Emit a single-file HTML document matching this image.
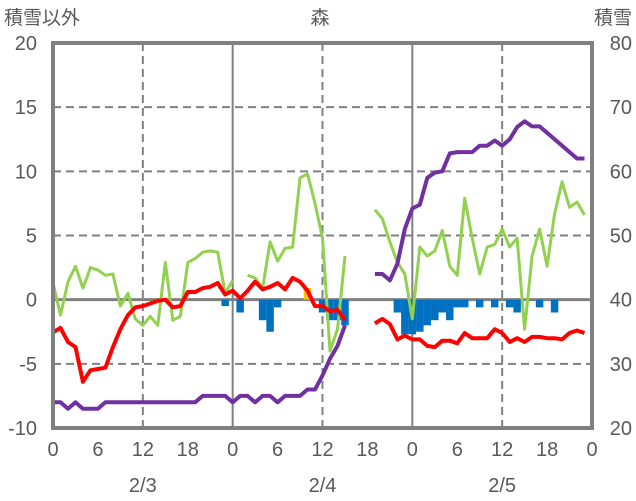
<!DOCTYPE html>
<html><head><meta charset="utf-8"><style>
body{margin:0;background:#fff}
svg{display:block;font-family:"Liberation Sans","Noto Sans CJK JP",sans-serif}
</style></head><body>
<svg id="c" width="636" height="501"></svg>
<script>
const hours=[0,6,12,18,0,6,12,18,0,6,12,18,0];
const dates=["2/3","2/4","2/5"];
const leftTicks=[20,15,10,5,0,-5,-10];
const rightTicks=[80,70,60,50,40,30,20];
const N=null;
const green=[1.3,-1.2,1.4,2.6,0.9,2.5,2.3,1.9,2.0,-0.5,0.5,-1.5,-2.0,-1.3,-2.0,2.9,-1.6,-1.3,2.9,3.2,3.7,3.8,3.7,0.5,1.5,N,1.9,1.7,0.9,4.5,3.0,4.0,4.1,9.5,9.8,7.5,4.8,-4.0,-2.3,3.4,N,N,N,7.0,6.3,4.5,2.9,2.0,-1.5,4.1,3.4,3.8,5.4,2.6,1.9,7.9,4.8,2.0,4.1,4.3,5.5,4.1,4.8,-2.3,3.4,5.5,2.6,6.7,9.2,7.2,7.6,6.6];
const red=[-2.55,-2.2,-3.3,-3.7,-6.4,-5.5,-5.4,-5.3,-3.7,-2.3,-1.2,-0.6,-0.5,-0.3,-0.1,0,-0.6,-0.5,0.6,0.6,0.9,1.0,1.3,0.4,0.7,0.1,0.7,1.4,0.8,1.0,1.3,0.8,1.7,1.4,0.7,-0.5,-0.5,-0.9,-0.8,-1.6,N,N,N,-1.85,-1.5,-1.9,-3.1,-2.8,-3.1,-3.1,-3.6,-3.7,-3.2,-3.2,-3.4,-2.6,-3.0,-3.0,-3.0,-2.3,-2.6,-3.3,-3.0,-3.3,-2.9,-2.9,-3.0,-3.0,-3.1,-2.6,-2.4,-2.6];
const snowDepth=[24,24,23,24,23,23,23,24,24,24,24,24,24,24,24,24,24,24,24,24,25,25,25,25,24,25,25,24,25,25,24,25,25,25,26,26,28.2,30.8,32.8,36,N,N,N,44,44,43,45.6,51,54.2,54.8,59,59.8,60,62.8,63,63,63,64,64,64.8,64,65,66.9,67.8,67,67,66,65,64,63,62,62];
const snowfall=[0,0,0,0,0,0,0,0,0,0,0,0,0,0,0,0,0,0,0,0,0,0,0,-0.5,0,-1.0,0,0,-1.6,-2.5,-0.6,0,0,0,0,0,-1.0,-1.6,-1.6,-2.0,0,0,0,0,0,0,-1.0,-2.7,-2.7,-2.5,-2.0,-1.6,-1.0,-1.6,-0.6,-0.6,0,-0.6,0,-0.6,0,-0.6,-1.0,0,0,-0.6,0,-1.0,0,0,0,0];
const rain=[0,0,0,0,0,0,0,0,0,0,0,0,0,0,0,0,0,0,0,0,0,0,0,0,0,0,0,0,0,0,0,0,0,0,0.9,0,0,0,0,0,0,0,0,0,0,0,0,0,0,0,0,0,0,0,0,0,0,0,0,0,0,0,0,0,0,0,0,0,0,0,0,0];

const X0=53,X1=592,Y0=43,Y1=428;
const x=h=>X0+(X1-X0)*h/72;
const y=v=>Y1-(v+10)*(Y1-Y0)/30;
const yr=r=>y((r-40)/2);
const svg=document.getElementById('c');
const NS='http://www.w3.org/2000/svg';
function mk(t,a,p){const e=document.createElementNS(NS,t);for(const k in a)e.setAttribute(k,a[k]);(p||svg).appendChild(e);return e;}
// grid
[15,10,5,-5].forEach(v=>{const l=mk('line',{x1:X0,x2:X1,y1:y(v),y2:y(v),stroke:'#808080','stroke-width':2,'stroke-dasharray':'8,5'});

});
[12,36,60].forEach(h=>{const l=mk('line',{x1:x(h),x2:x(h),y1:Y0,y2:Y1,stroke:'#808080','stroke-width':2,'stroke-dasharray':'8,5'});

});
[24,48].forEach(h=>{const l=mk('line',{x1:x(h),x2:x(h),y1:Y0,y2:Y1,stroke:'#808080','stroke-width':2});

});
const z=mk('line',{x1:X0,x2:X1,y1:y(0),y2:y(0),stroke:'#808080','stroke-width':3});


// bars
const bw=(X1-X0)/72;
snowfall.forEach((v,i)=>{if(!v)return;const r=mk('rect',{x:x(i)-bw/2,y:y(0),width:bw,height:y(v)-y(0),fill:'#0070c0'});

});
rain.forEach((v,i)=>{if(!v)return;const r=mk('rect',{x:x(i)-bw/2,y:y(v),width:bw,height:y(0)-y(v),fill:'#ffc000'});

});
function line(arr,fy,col,w,name){let d='',pen=false;arr.forEach((v,i)=>{if(v===null){pen=false;return;}d+=(pen?'L':'M')+x(i).toFixed(1)+' '+fy(v).toFixed(1);pen=true;});
const p=mk('path',{d:d,fill:'none',stroke:col,'stroke-width':w,'stroke-linejoin':'round'});

}
line(green,y,'#92d050',3,'green-series-line');
line(red,y,'#ff0000',4,'temperature-line');
line(snowDepth,yr,'#7030a0',4,'snow-depth-line');
const f=mk('rect',{x:X0,y:Y0,width:X1-X0,height:Y1-Y0,fill:'none',stroke:'#808080','stroke-width':4});


function txt(s,a,name){const t=mk('text',Object.assign({fill:'#595959','font-size':20},a));t.textContent=s;

}
leftTicks.forEach(v=>txt(v,{x:37,y:y(v)+7,'text-anchor':'end'},'left-tick-label'));
rightTicks.forEach(v=>txt(v,{x:632,y:yr(v)+7,'text-anchor':'end'},'right-tick-label'));
hours.forEach((h,i)=>txt(h,{x:x(i*6),y:456,'text-anchor':'middle'},'hour-tick-label'));
dates.forEach((d,i)=>txt(d,{x:x(12+24*i),y:492,'text-anchor':'middle'},'date-label'));
txt('積雪以外',{x:4,y:24,'font-size':19},'left-axis-title');
txt('森',{x:320,y:24,'font-size':19,'text-anchor':'middle'},'chart-title');
txt('積雪',{x:632,y:24,'font-size':19,'text-anchor':'end'},'right-axis-title');
</script>
</body></html>
